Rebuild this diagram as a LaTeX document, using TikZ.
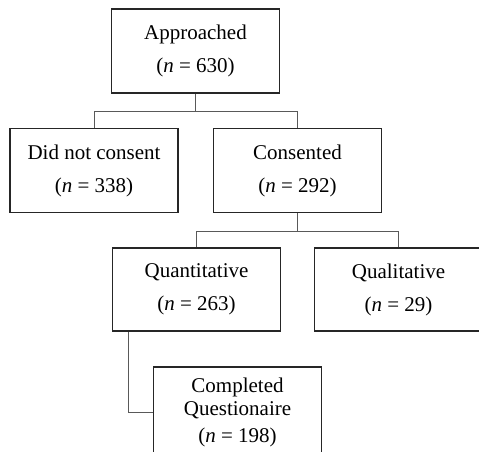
\documentclass[tikz,border=0pt]{standalone}
\usepackage{fontspec}
\setmainfont{Liberation Serif}
\begin{document}
\begin{tikzpicture}[x=1pt,y=-1pt,
  box/.style={draw=black!85, line width=1.6pt, rectangle, inner sep=0pt,
    minimum width=168pt, minimum height=84pt, align=center,
    font=\fontsize{21}{33}\selectfont},
  conn/.style={draw=black!65, line width=0.9pt}]
\useasboundingbox (0,0) rectangle (479,452);
\clip (0,0) rectangle (479,452);
\node[box] (A) at (195.5,51) {Approached\\(\textit{n} = 630)};
\node[box] (D) at (94,170.5) {Did not consent\\(\textit{n} = 338)};
\node[box] (C) at (297.5,170.5) {Consented\\(\textit{n} = 292)};
\node[box, minimum height=83pt] (Q) at (196.5,289.5) {Quantitative\\(\textit{n} = 263)};
\node[box, minimum height=83pt] (L) at (398.5,289.5) {Qualitative\\(\textit{n} = 29)};
\node[box, minimum height=90pt, font=\fontsize{21}{23}\selectfont] (P) at (237.5,412) {Completed\\Questionaire\\[4pt](\textit{n} = 198)};
\coordinate (q1) at ([xshift=17pt]Q.south west);
\draw[conn] (A.south) -- ++(0,18) -| (D.north);
\draw[conn] (A.south) -- ++(0,18) -| (C.north);
\draw[conn] (C.south) -- ++(0,17.7) -| (Q.north);
\draw[conn] (C.south) -- ++(0,17.7) -| (L.north);
\draw[conn] (q1) |- (P.west);
\end{tikzpicture}
\end{document}
